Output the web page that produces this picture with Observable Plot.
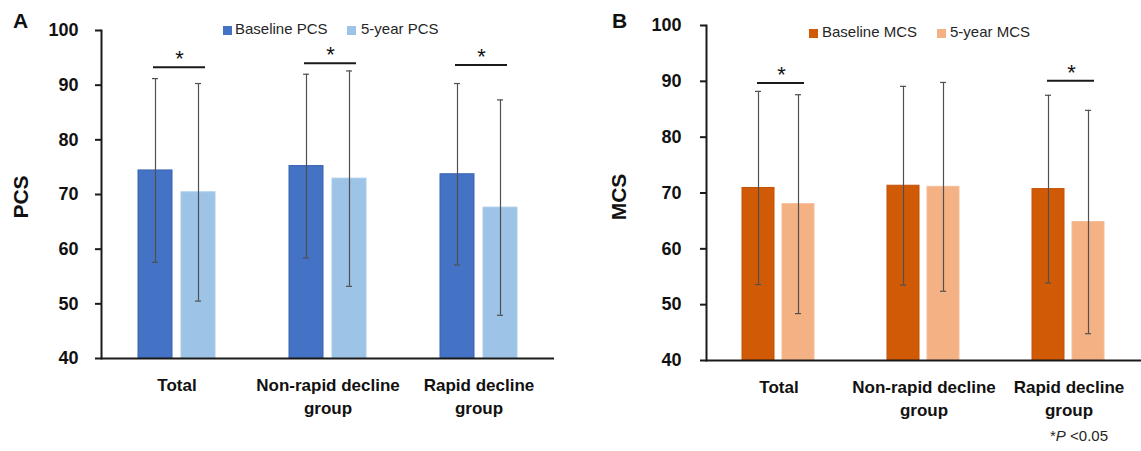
<!DOCTYPE html>
<html><head><meta charset="utf-8">
<script src="https://cdn.jsdelivr.net/npm/d3@7"></script>
<script src="https://cdn.jsdelivr.net/npm/@observablehq/plot@0.6"></script>
<style>
body{margin:0;background:#fff;}
#wrap{position:relative;width:1141px;height:451px;overflow:hidden;font-family:"Liberation Sans",Arial,sans-serif;}
.panel{position:absolute;top:0;}
.sw{position:absolute;width:9px;height:9px;}
.lt{position:absolute;font-size:15px;line-height:15px;color:#262626;white-space:nowrap;}
.plab{position:absolute;font-family:"Liberation Sans",Arial,sans-serif;font-weight:bold;font-size:21px;line-height:22px;color:#111;}
.ylab{position:absolute;font-family:"Liberation Sans",Arial,sans-serif;font-weight:bold;font-size:21px;line-height:22px;color:#111;transform:translate(-50%,-50%) rotate(-90deg);white-space:nowrap;}
</style>
</head><body>
<div id="wrap"></div>
<script>
// ---- data ----
const groups = ["Total", "Non-rapid decline group", "Rapid decline group"];
const groupLabels = ["Total", "Non-rapid decline\ngroup", "Rapid decline\ngroup"];
const series = ["Baseline", "5-year"];
const yTicks = [40, 50, 60, 70, 80, 90, 100];

const pcsBaselineMean = [74.4, 75.2, 73.7];
const pcsBaselineSD   = [16.8, 16.8, 16.6];
const pcsFiveYearMean = [70.4, 72.9, 67.6];
const pcsFiveYearSD   = [19.9, 19.7, 19.7];
const pcsSigGroups = ["Total", "Non-rapid decline group", "Rapid decline group"];
const pcsSigLevels = [93.3, 94.0, 93.7];

const mcsBaselineMean = [70.9, 71.3, 70.7];
const mcsBaselineSD   = [17.3, 17.8, 16.8];
const mcsFiveYearMean = [68.0, 71.1, 64.8];
const mcsFiveYearSD   = [19.6, 18.7, 20.0];
const mcsSigGroups = ["Total", "Rapid decline group"];
const mcsSigLevels = [89.7, 90.1];

const pcsColors = ["#4472C4", "#9DC3E6"];
const pcsStrokes = ["#3A63B0", "#A9CBEA"];
const mcsColors = ["#D15A06", "#F4B183"];
const mcsStrokes = ["#C25205", "#F6BC95"];

const FONT = '"Liberation Sans",Arial,sans-serif';

function panel(o) {
  const rows = [];
  groups.forEach((g, i) => {
    rows.push({group: g, series: "Baseline", mean: o.base[i], sd: o.baseSD[i]});
    rows.push({group: g, series: "5-year", mean: o.five[i], sd: o.fiveSD[i]});
  });
  const sig = o.sigGroups.map((g, k) => ({group: g, level: o.sigLevels[k]}));
  const strokeOf = d => o.strokes[series.indexOf(d.series)];
  return Plot.plot({
    width: o.width, height: 451,
    marginLeft: o.marginLeft, marginRight: o.marginRight,
    marginTop: o.marginTop, marginBottom: o.marginBottom,
    style: {fontFamily: FONT, fontWeight: "bold", fontSize: "17px", color: "#111", background: "transparent", overflow: "visible"},
    fx: {domain: groups, padding: 0, axis: null},
    x: {domain: series, paddingInner: o.padIn, paddingOuter: o.padOut, axis: null},
    y: {domain: [40, 100], axis: null},
    color: {domain: series, range: o.colors},
    marks: [
      Plot.barY(rows, {fx: "group", x: "series", y1: 40, y2: "mean", fill: "series", stroke: strokeOf, strokeWidth: 1}),
      Plot.ruleX(rows, {fx: "group", x: "series", y1: d => d.mean - d.sd, y2: d => d.mean + d.sd, stroke: "#505050", strokeWidth: 1.2}),
      Plot.tickY(rows, {fx: "group", x: "series", y: d => d.mean + d.sd, stroke: "#505050", strokeWidth: 1.2, insetLeft: o.capInset, insetRight: o.capInset}),
      Plot.tickY(rows, {fx: "group", x: "series", y: d => d.mean - d.sd, stroke: "#505050", strokeWidth: 1.2, insetLeft: o.capInset, insetRight: o.capInset}),
      Plot.ruleY(sig, {fx: "group", y: "level", x1: () => "Baseline", x2: () => "5-year", insetLeft: 15, insetRight: 10, stroke: "#1a1a1a", strokeWidth: 2}),
      Plot.text(sig, {fx: "group", y: "level", text: () => "*", lineAnchor: "bottom", dy: -1, dx: 2.5, fontSize: 22, fontWeight: "normal", fill: "#111"}),
      Plot.ruleY([40], {stroke: "#1a1a1a", strokeWidth: 2}),
      Plot.axisY({ticks: yTicks, tickSize: 6, tickPadding: o.tickPad, strokeWidth: 2, stroke: "#1a1a1a", fill: "#111", fontSize: 18}),
      Plot.frame({anchor: "left", facetAnchor: "left", stroke: "#1a1a1a", strokeWidth: 2}),
      Plot.text(groups, {fx: d => d, text: (d, i) => groupLabels[i], frameAnchor: "bottom", lineAnchor: "top", dy: 16, lineHeight: 1.35, fontSize: 17, fill: "#111"})
    ]
  });
}

const wrap = document.getElementById("wrap");

const pA = panel({base: pcsBaselineMean, baseSD: pcsBaselineSD, five: pcsFiveYearMean, fiveSD: pcsFiveYearSD,
  sigGroups: pcsSigGroups, sigLevels: pcsSigLevels, colors: pcsColors, strokes: pcsStrokes,
  width: 570, marginLeft: 101, marginRight: 16, marginTop: 30, marginBottom: 93,
  padIn: 0.21, padOut: 0.86, tickPad: 17, capInset: 14});
pA.classList.add("panel"); pA.style.left = "0px";
wrap.appendChild(pA);

const pB = panel({base: mcsBaselineMean, baseSD: mcsBaselineSD, five: mcsFiveYearMean, fiveSD: mcsFiveYearSD,
  sigGroups: mcsSigGroups, sigLevels: mcsSigLevels, colors: mcsColors, strokes: mcsStrokes,
  width: 571, marginLeft: 135, marginRight: 0, marginTop: 25, marginBottom: 91,
  padIn: 0.195, padOut: 0.88, tickPad: 19, capInset: 13});
pB.classList.add("panel"); pB.style.left = "570px";
wrap.appendChild(pB);

function addEl(cls, text, css, html) {
  const d = document.createElement("div");
  d.className = cls;
  if (html) d.innerHTML = html; else if (text) d.textContent = text;
  Object.assign(d.style, css);
  wrap.appendChild(d);
}
// legends
addEl("sw", "", {left: "223px", top: "26px", background: pcsColors[0]});
addEl("lt", "Baseline PCS", {left: "235px", top: "21px"});
addEl("sw", "", {left: "347px", top: "26px", background: pcsColors[1]});
addEl("lt", "5-year PCS", {left: "361px", top: "21px"});
addEl("sw", "", {left: "809px", top: "29px", background: mcsColors[0]});
addEl("lt", "Baseline MCS", {left: "822px", top: "24px"});
addEl("sw", "", {left: "937px", top: "29px", background: mcsColors[1]});
addEl("lt", "5-year MCS", {left: "950px", top: "24px"});
// panel letters
addEl("plab", "A", {left: "13px", top: "10px"});
addEl("plab", "B", {left: "612px", top: "10px"});
// y titles
addEl("ylab", "PCS", {left: "21px", top: "197px"});
addEl("ylab", "MCS", {left: "619px", top: "197px"});
// footnote
addEl("lt", "", {left: "1050px", top: "428px"}, "*<i>P</i> &lt;0.05");
</script>
</body></html>
